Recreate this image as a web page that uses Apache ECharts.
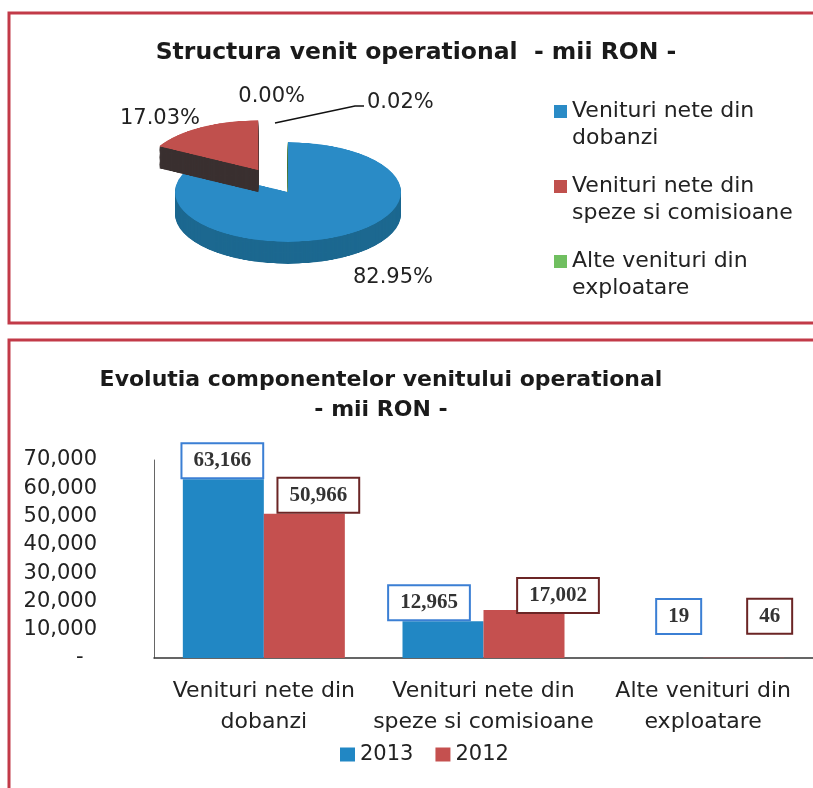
<!DOCTYPE html>
<html>
<head>
<meta charset="utf-8">
<script src="https://cdn.jsdelivr.net/npm/echarts@6/dist/echarts.min.js"></script>
<style>
    body { margin: 0; background: #fff; }
    #wrap { position: relative; width: 813px; height: 788px; overflow: hidden; }
    #main { position: absolute; left: 0; top: 0; width: 813px; height: 788px; }
    /* 3D-looking pie: a flat pie squashed vertically */
    #pie3d { position: absolute; left: 88px; top: -8px; width: 400px; height: 400px; transform: scaleY(0.44); transform-origin: 50% 50%; }
</style>
</head>
<body>
<div id="wrap">
    <div id="main"></div>
    <div id="pie3d"></div>
</div>
<script>
// categories and values (mii RON)
const categories = ['Venituri nete din\ndobanzi', 'Venituri nete din\nspeze si comisioane', 'Alte venituri din\nexploatare'];
const years = ['2013', '2012'];
const values2013 = [63166, 12965, 19];
const values2012 = [50966, 17002, 46];
// pie = 2013 structure, plus one empty point shown as 0.00%
const pieNames = categories.concat(['']);
const pieValues = values2013.concat([0]);
const yMax = 70000;
const yStep = 10000;

const FONT = 'DejaVu Sans';
const pieTop = ['#2a8bc6', '#c0504d', '#70bf60', '#999999'];
const pieSide = ['#1c6890', '#3a3030', '#3f6a36', '#666666'];
const pieCenter = [288, 198];   // anchor of the percentage labels

// nudges of the boxed value labels (Excel placed them by hand)
const nudge2013 = [[-1, 0], [-14, 0], [16, -23]];
const nudge2012 = [[14, 0], [34, 4], [26, -23]];

const main = echarts.init(document.getElementById('main'));

const boxLabel = (border) => ({
    show: true,
    position: 'top',
    distance: 2,
    formatter: p => p.value.toLocaleString('en-US'),
    fontFamily: 'Liberation Serif',
    fontWeight: 'bold',
    fontSize: 21,
    lineHeight: 21,
    color: '#333',
    backgroundColor: '#fff',
    borderColor: border,
    borderWidth: 2,
    padding: [6, 11]
});

main.setOption({
    backgroundColor: '#fff',
    animation: false,
    title: [
        {
            text: 'Structura venit operational  - mii RON -',
            left: 416, top: 41, textAlign: 'center', padding: 0,
            textStyle: { fontFamily: FONT, fontSize: 23.5, fontWeight: 'bold', color: '#1a1a1a' }
        },
        {
            text: 'Evolutia componentelor venitului operational\n- mii RON -',
            left: 381, top: 365, textAlign: 'center', padding: 0,
            textStyle: { fontFamily: FONT, fontSize: 22, fontWeight: 'bold', color: '#1a1a1a', lineHeight: 30 }
        }
    ],
    legend: [
        {
            orient: 'vertical',
            left: 554, top: 71,
            padding: 0,
            itemWidth: 13, itemHeight: 13,
            itemGap: -6,
            icon: 'rect',
            selectedMode: false,
            // leading blank line keeps the marker level with the first text line
            formatter: name => '\n' + name,
            textStyle: { fontFamily: FONT, fontSize: 22, lineHeight: 27, color: '#222' },
            data: categories.map((n, i) => ({ name: n, itemStyle: { color: pieTop[i] } }))
        },
        {
            left: 340, top: 744,
            padding: 0,
            itemWidth: 15, itemHeight: 14,
            itemGap: 22,
            icon: 'rect',
            selectedMode: false,
            textStyle: { fontFamily: FONT, fontSize: 21, color: '#222' },
            data: years
        }
    ],
    graphic: [
        { type: 'rect', shape: { x: 9, y: 13, width: 830, height: 310 }, style: { fill: 'none', stroke: '#c23a48', lineWidth: 3 } },
        { type: 'rect', shape: { x: 9, y: 340, width: 830, height: 500 }, style: { fill: 'none', stroke: '#c23a48', lineWidth: 3 } }
    ],
    grid: { left: 154, top: 460, width: 672, height: 198 },
    xAxis: {
        type: 'category',
        data: categories,
        axisTick: { show: false },
        axisLine: { lineStyle: { color: '#333', width: 1.5 } },
        axisLabel: { interval: 0, fontFamily: FONT, fontSize: 22, lineHeight: 31, margin: 18, color: '#222' }
    },
    yAxis: {
        type: 'value',
        min: 0, max: yMax, interval: yStep,
        splitLine: { show: false },
        axisTick: { show: false },
        axisLine: { show: true, lineStyle: { color: '#666', width: 1 } },
        axisLabel: {
            fontFamily: FONT, fontSize: 21, margin: 57, color: '#222',
            formatter: v => v === 0 ? '-  ' : v.toLocaleString('en-US')
        }
    },
    series: [
        {
            name: years[0], type: 'bar', barWidth: 81, barGap: '0%',
            itemStyle: { color: '#2187c4' },
            label: boxLabel('#3b7fd4'),
            data: values2013.map((v, i) => ({ value: v, label: { offset: nudge2013[i] } }))
        },
        {
            name: years[1], type: 'bar', barWidth: 81, barGap: '0%',
            itemStyle: { color: '#c5504f' },
            label: boxLabel('#6b2525'),
            data: values2012.map((v, i) => ({ value: v, label: { offset: nudge2012[i] } }))
        },
        {
            // invisible pie that only carries the percentage labels
            type: 'pie',
            center: pieCenter,
            radius: 70,
            startAngle: 90,
            silent: true,
            avoidLabelOverlap: false,
            itemStyle: { color: 'rgba(0,0,0,0)' },
            label: {
                show: true, position: 'outside',
                fontFamily: FONT, fontSize: 21, color: '#222',
                formatter: p => p.percent.toFixed(2) + '%'
            },
            labelLine: { show: false, length: 22, length2: 13 },
            labelLayout: (params) => {
                if (params.dataIndex === 2) {
                    return {
                        x: pieCenter[0] + 79, y: pieCenter[1] - 95, align: 'left', verticalAlign: 'middle',
                        labelLinePoints: [
                            [pieCenter[0] - 13, pieCenter[1] - 75],
                            [pieCenter[0] + 67, pieCenter[1] - 92],
                            [pieCenter[0] + 76, pieCenter[1] - 92]
                        ]
                    };
                }
                if (params.dataIndex === 3) {
                    return { x: pieCenter[0] + 17, y: pieCenter[1] - 101, align: 'right', verticalAlign: 'middle' };
                }
            },
            data: pieValues.map((v, i) => ({
                value: v,
                name: pieNames[i],
                labelLine: i === 1 ? { length2: 36 } : (i === 2 ? { show: true, lineStyle: { color: '#111', width: 1.5 } } : {})
            }))
        }
    ]
});

// squashed pie drawn as a stack of layers to give it a side wall
const pie = echarts.init(document.getElementById('pie3d'));
const layer = (dy, colors) => ({
    type: 'pie',
    center: [200, 200 + dy],
    radius: 113,
    startAngle: 90,
    silent: true,
    selectedMode: 'single',
    selectedOffset: 58,
    label: { show: false },
    labelLine: { show: false },
    data: pieValues.map((v, i) => ({ value: v, name: pieNames[i], selected: i === 1, itemStyle: { color: colors[i] } }))
});
const pieSeries = [];
for (let d = 50; d >= 2; d -= 2) {
    pieSeries.push(layer(d, pieSide));
}
pieSeries.push(layer(0, pieTop));
pie.setOption({ animation: false, series: pieSeries });
</script>
</body>
</html>
